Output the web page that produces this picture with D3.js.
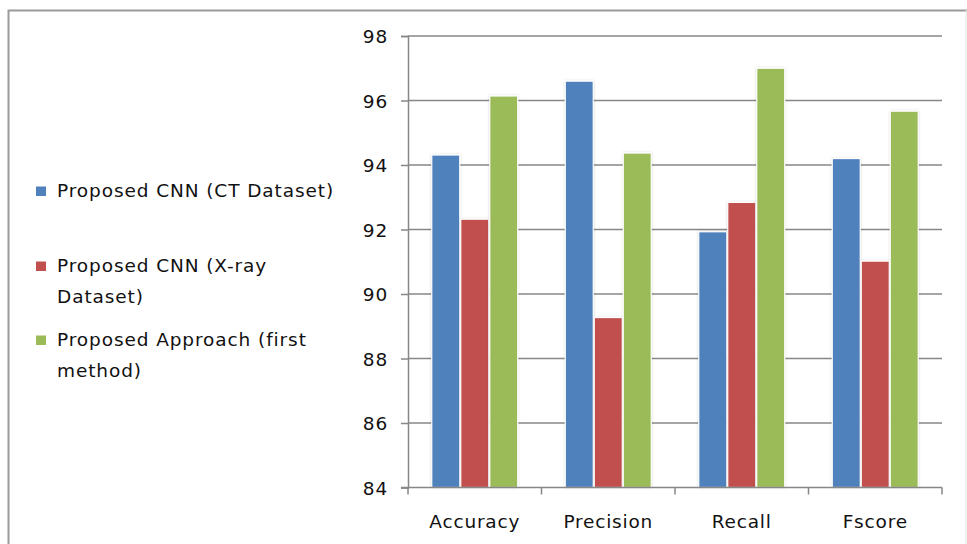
<!DOCTYPE html>
<html>
<head>
<meta charset="utf-8">
<script src="https://cdn.jsdelivr.net/npm/d3@7/dist/d3.min.js"></script>
<style>
  html, body { margin: 0; padding: 0; background: #fff; }
  svg text { font-family: "DejaVu Sans", Verdana, sans-serif; fill: #111; }
</style>
</head>
<body>
<svg id="chart" width="967" height="544"></svg>
<script>
// Metrics on the x axis
const categories = ["Accuracy", "Precision", "Recall", "Fscore"];
// Series names (legend lines) and values per metric
const seriesNames = [
  ["Proposed CNN (CT Dataset)"],
  ["Proposed CNN (X-ray", "Dataset)"],
  ["Proposed Approach (first", "method)"]
];
const ctValues = [94.31, 96.60, 91.93, 94.20];
const xrayValues = [92.32, 89.27, 92.84, 91.02];
const approachValues = [96.14, 94.37, 97.00, 95.67];
const yTicks = [84, 86, 88, 90, 92, 94, 96, 98];
const colors = ["#4F81BD", "#C0504D", "#9BBB59"];

const series = [ctValues, xrayValues, approachValues];

const svg = d3.select("#chart");

// outer frame
svg.append("path")
  .attr("d", "M8.5,544 V10.5 H967")
  .attr("fill", "none")
  .attr("stroke", "#9a9a9a")
  .attr("stroke-width", 2);
svg.append("line")
  .attr("x1", 966).attr("x2", 966).attr("y1", 10).attr("y2", 544)
  .attr("stroke", "#e4e4e4").attr("stroke-width", 1);

const plot = { left: 408, right: 942, top: 36, bottom: 487.5 };

const y = d3.scaleLinear().domain([84, 98]).range([plot.bottom, plot.top]);
const x0 = d3.scaleBand().domain(categories).range([plot.left, plot.right]).padding(0);
const groupW = 87;
const x1 = d3.scaleBand().domain(d3.range(series.length)).range([0, groupW]).padding(0);

const defs = svg.append("defs");
const shadow = defs.append("filter").attr("id", "barShadow")
  .attr("x", "-20%").attr("y", "-5%").attr("width", "140%").attr("height", "110%");
shadow.append("feDropShadow")
  .attr("dx", 0).attr("dy", 0).attr("stdDeviation", 1.2)
  .attr("flood-color", "#000").attr("flood-opacity", 0.18);

// horizontal gridlines
svg.append("g").selectAll("line")
  .data(yTicks.filter(t => t !== 84))
  .join("line")
  .attr("x1", plot.left).attr("x2", plot.right)
  .attr("y1", d => y(d)).attr("y2", d => y(d))
  .attr("stroke", "#878787").attr("stroke-width", 1.5);

// bars
const groups = svg.append("g").selectAll("g")
  .data(categories)
  .join("g")
  .attr("transform", c => `translate(${x0(c) + (x0.bandwidth() - groupW) / 2},0)`);

groups.selectAll("rect")
  .data((c, ci) => series.map((s, si) => ({ si, v: s[ci] })))
  .join("rect")
  .attr("x", d => x1(d.si) + 0.5)
  .attr("width", x1.bandwidth() - 1)
  .attr("y", d => y(d.v))
  .attr("height", d => y(84) - y(d.v))
  .attr("fill", d => colors[d.si])
  .attr("stroke", "#ffffff")
  .attr("stroke-width", 1.2)
  .attr("filter", "url(#barShadow)");

// y axis
const yAxis = svg.append("g")
  .attr("transform", `translate(${plot.left},0)`)
  .call(d3.axisLeft(y).tickValues(yTicks).tickSize(7).tickPadding(13).tickFormat(d3.format("d")));
yAxis.select(".domain").attr("stroke", "#878787").attr("stroke-width", 1.5);
yAxis.selectAll(".tick line").attr("stroke", "#878787").attr("stroke-width", 1.5);
yAxis.selectAll(".tick text")
  .attr("font-size", 18.5)
  .attr("letter-spacing", 0.8)
  .attr("dy", "0.36em")
  .attr("fill", "#111")
  .style("font-family", "\"DejaVu Sans\", sans-serif");

// x axis with boundary ticks between categories
const xAxis = svg.append("g").attr("transform", `translate(0,${plot.bottom})`);
xAxis.append("line")
  .attr("x1", plot.left - 7).attr("x2", plot.right)
  .attr("stroke", "#878787").attr("stroke-width", 1.5);
const bounds = categories.map(c => x0(c)).concat([plot.right]);
xAxis.selectAll("line.b")
  .data(bounds)
  .join("line")
  .attr("class", "b")
  .attr("x1", d => d).attr("x2", d => d)
  .attr("y1", 0).attr("y2", 7)
  .attr("stroke", "#878787").attr("stroke-width", 1.5);
xAxis.selectAll("text")
  .data(categories)
  .join("text")
  .attr("x", c => x0(c) + x0.bandwidth() / 2)
  .attr("y", 40)
  .attr("text-anchor", "middle")
  .attr("font-size", 18.5)
  .attr("letter-spacing", 0.8)
  .text(c => c);

// legend
const legendTops = [197, 272, 346];
const legend = svg.append("g");
seriesNames.forEach((lines, i) => {
  const g = legend.append("g");
  g.append("rect")
    .attr("x", 36).attr("y", legendTops[i] - 10.5)
    .attr("width", 10).attr("height", 9.5)
    .attr("fill", colors[i]);
  lines.forEach((ln, li) => {
    g.append("text")
      .attr("x", 57)
      .attr("y", legendTops[i] + li * 30.5)
      .attr("font-size", 18.5)
      .attr("letter-spacing", 0.9)
      .text(ln);
  });
});
</script>
</body>
</html>
